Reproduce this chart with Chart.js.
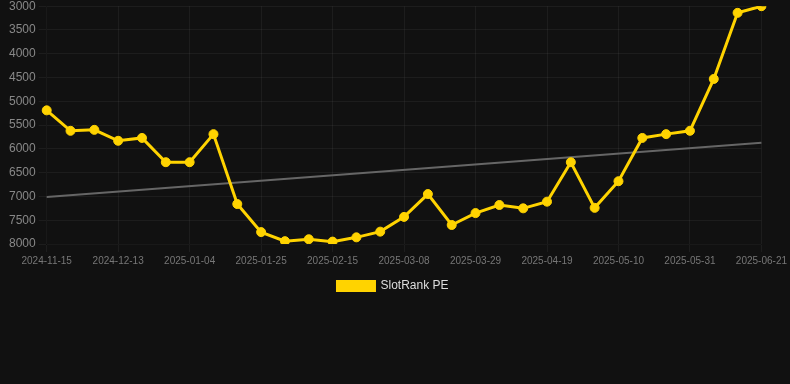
<!DOCTYPE html>
<html>
<head>
<meta charset="utf-8">
<script src="https://cdn.jsdelivr.net/npm/chart.js@4"></script>
<style>
  html, body { margin: 0; padding: 0; background: #111111; }
  .wrap { position: relative; width: 790px; height: 306px; margin-top: -4px; }
</style>
</head>
<body>
<div class="wrap"><canvas id="peChart"></canvas></div>
<script>
// fechas semanales (solo se ven cada tercera)
const dates = [
  "2024-11-15", "2024-11-22", "2024-11-29", "2024-12-13", "2024-12-21", "2024-12-28",
  "2025-01-04", "2025-01-11", "2025-01-18", "2025-01-25", "2025-02-01", "2025-02-08",
  "2025-02-15", "2025-02-22", "2025-03-01", "2025-03-08", "2025-03-15", "2025-03-22",
  "2025-03-29", "2025-04-05", "2025-04-12", "2025-04-19", "2025-04-26", "2025-05-03",
  "2025-05-10", "2025-05-17", "2025-05-24", "2025-05-31", "2025-06-07", "2025-06-14",
  "2025-06-21"
];

const rankValues = [
  5190, 5620, 5600, 5830, 5770, 6280, 6280, 5690, 7160, 7750, 7940, 7900,
  7950, 7860, 7740, 7430, 6950, 7600, 7350, 7180, 7250, 7110, 6280, 7240,
  6680, 5770, 5690, 5620, 4530, 3140, 3000
];

// línea de tendencia: solo inicio y fin
const trendStart = 7010;
const trendEnd = 5870;

const yTicks = [3000, 3500, 4000, 4500, 5000, 5500, 6000, 6500, 7000, 7500, 8000];

const trendValues = dates.map((d, i) => {
  if (i === 0) return trendStart;
  if (i === dates.length - 1) return trendEnd;
  return null;
});

const ctx = document.getElementById("peChart").getContext("2d");

new Chart(ctx, {
  type: "line",
  data: {
    labels: dates,
    datasets: [
      {
        label: "SlotRank PE",
        data: rankValues,
        borderColor: "#FFD300",
        backgroundColor: "#FFD300",
        borderWidth: 3,
        pointRadius: 4.5,
        pointBorderWidth: 1,
        pointBackgroundColor: "#FFD300",
        pointBorderColor: "#FFD300",
        tension: 0,
        order: 1
      },
      {
        label: "trend",
        data: trendValues,
        borderColor: "#666666",
        borderWidth: 2,
        pointRadius: 0,
        spanGaps: true,
        order: 2
      }
    ]
  },
  options: {
    responsive: true,
    maintainAspectRatio: false,
    animation: false,
    layout: { padding: { left: 6, right: 10, top: 0, bottom: 0 } },
    scales: {
      x: {
        grid: { color: "rgba(255,255,255,0.05)" },
        ticks: {
          color: "#777",
          font: { size: 10, family: "Liberation Sans, Arial, sans-serif" },
          maxRotation: 0,
          autoSkip: true,
          maxTicksLimit: 11
        }
      },
      y: {
        reverse: true,
        min: 3000,
        max: 8000,
        afterBuildTicks: (axis) => { axis.ticks = yTicks.map(v => ({ value: v })); },
        grid: { color: "rgba(255,255,255,0.05)" },
        ticks: {
          color: "#888",
          font: { size: 12, family: "Liberation Sans, Arial, sans-serif" },
          callback: (v) => String(v)
        }
      }
    },
    plugins: {
      legend: {
        position: "bottom",
        labels: {
          color: "#dddddd",
          boxWidth: 37,
          boxHeight: 9,
          font: { size: 12, family: "Liberation Sans, Arial, sans-serif" },
          filter: (item) => item.text !== "trend"
        }
      },
      tooltip: { enabled: false }
    }
  }
});
</script>
</body>
</html>
